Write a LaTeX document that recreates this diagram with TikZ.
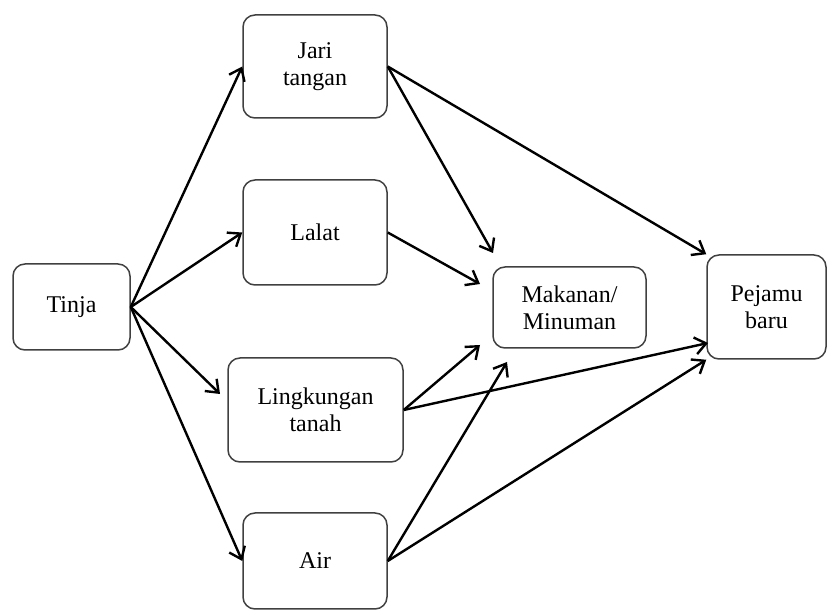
\documentclass[tikz,border=0pt]{standalone}
\usepackage{fontspec}
\setmainfont{Liberation Serif}
\usetikzlibrary{arrows.meta, positioning}

\begin{document}
\begin{tikzpicture}[x=0.5pt, y=-0.5pt,
        block/.style={rectangle, draw=black!75, line width=0.75pt, rounded corners=6pt, align=center, inner sep=0pt, font=\fontsize{12}{13.5}\selectfont},
        line/.style={draw, line width=1.2pt, -{Straight Barb[length=5.5pt, width=8.5pt]}}
    ]
        \useasboundingbox (0,0) rectangle (829,613);
        \node [block, minimum width=58.5pt, minimum height=43pt] (tinja) at (71.5,307) {Tinja};
        \node [block, minimum width=72pt, minimum height=51.5pt] (jari) at (315,66.5) {Jari\\tangan};
        \node [block, minimum width=72pt, minimum height=52.5pt] (lalat) at (315,232.5) {Lalat};
        \node [block, minimum width=87.5pt, minimum height=52pt] (tanah) at (315.5,410) {Lingkungan\\tanah};
        \node [block, minimum width=72pt, minimum height=48pt] (air) at (315,561) {Air};
        \node [block, minimum width=76.5pt, minimum height=40.5pt] (makan) at (569.5,307.5) {Makanan/\\Minuman};
        \node [block, minimum width=59.5pt, minimum height=52pt] (pejamu) at (766.5,307) {Pejamu\\baru};

        % free ends of the arrows
        \coordinate (tanah in) at (220,394);
        \coordinate (makan jari) at (493,253);
        \coordinate (makan lalat) at (480,284);
        \coordinate (makan tanah) at (480,345);
        \coordinate (makan air) at (507,362);
        \coordinate (pejamu tanah) at (708,343);

        \path [line] (tinja.east) -- (jari.west);
        \path [line] (tinja.east) -- (lalat.west);
        \path [line] (tinja.east) -- (tanah in);
        \path [line] (tinja.east) -- (air.west);

        \path [line] (jari.east) -- (makan jari);
        \path [line] (jari.east) -- (pejamu.north west);
        \path [line] (lalat.east) -- (makan lalat);
        \path [line] (tanah.east) -- (makan tanah);
        \path [line] (tanah.east) -- (pejamu tanah);
        \path [line] (air.east) -- (makan air);
        \path [line] (air.east) -- (pejamu.south west);
    \end{tikzpicture}
\end{document}
